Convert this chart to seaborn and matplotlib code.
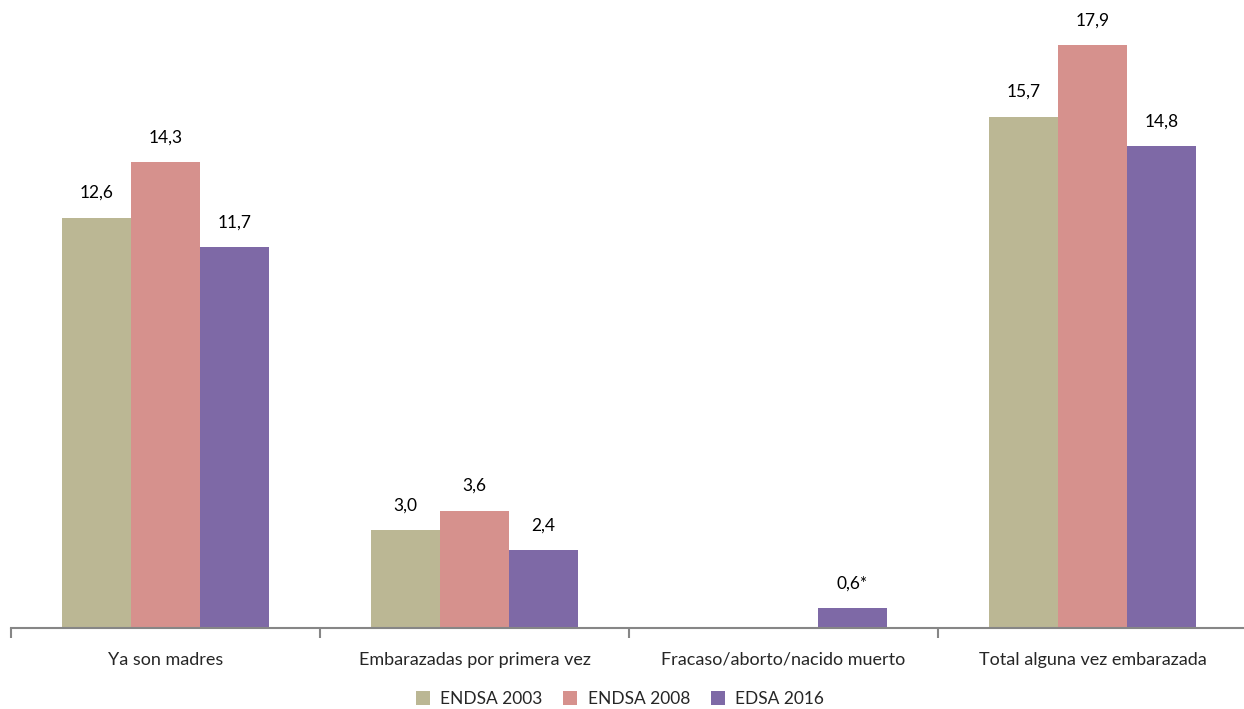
import numpy as np
import pandas as pd
import matplotlib
matplotlib.use("Agg")
import matplotlib.pyplot as plt
import seaborn as sns

categories = ["Ya son madres", "Embarazadas por primera vez",
              "Fracaso/aborto/nacido muerto", "Total alguna vez embarazada"]
series = ["ENDSA 2003", "ENDSA 2008", "EDSA 2016"]
endsa_2003 = [12.6, 3.0, np.nan, 15.7]
endsa_2008 = [14.3, 3.6, np.nan, 17.9]
edsa_2016 = [11.7, 2.4, 0.6, 14.8]
notes = {("EDSA 2016", "Fracaso/aborto/nacido muerto"): "*"}
colors = ["#BBB794", "#D6918D", "#7E69A6"]

rows = []
for s, vals in zip(series, [endsa_2003, endsa_2008, edsa_2016]):
    for c, v in zip(categories, vals):
        rows.append({"categoria": c, "serie": s, "val": v})
df = pd.DataFrame(rows)

sns.set_style("white")
plt.rcParams["font.family"] = ["Lato", "DejaVu Sans"]

fig = plt.figure(figsize=(12.44, 7.09), dpi=100)
ax = fig.add_axes([11/1244, (709-628)/709, 1236/1244, 628/709])

sns.barplot(data=df, x="categoria", y="val", hue="serie", order=categories,
            hue_order=series, palette=colors, width=0.67, ax=ax,
            saturation=1, legend=True, errorbar=None, linewidth=0)

ax.set_xlim(-0.5, 3.5)
ax.set_ylim(0, 628/32.57)

for cont, s in zip(ax.containers, series):
    sub = df[df["serie"] == s].dropna()
    labels = []
    for c, v in zip(sub["categoria"], sub["val"]):
        lab = f"{v:.1f}".replace(".", ",") + notes.get((s, c), "")
        labels.append(lab)
    ax.bar_label(cont, labels=labels, padding=12, fontsize=12.5, color="#000000")

for sp in ["top", "right", "left"]:
    ax.spines[sp].set_visible(False)
ax.spines["bottom"].set_color("#868686")
ax.spines["bottom"].set_linewidth(1.5)
ax.set_yticks([])
ax.set_xlabel("")
ax.set_ylabel("")
ax.set_xticks(range(4))
ax.set_xticklabels(categories, fontsize=13)
ax.tick_params(axis="x", which="major", length=0, pad=17)
ax.set_xticks([-0.5, 0.5, 1.5, 2.5, 3.5], minor=True)
ax.tick_params(axis="x", which="minor", bottom=True, length=7, width=1.5,
               color="#868686", direction="out")

leg = ax.legend(loc="center", bbox_to_anchor=(620/1244, 10/709), bbox_transform=fig.transFigure,
                ncol=3, frameon=False, fontsize=12.5, handlelength=0.8, handleheight=0.8,
                columnspacing=1.2, handletextpad=0.6, borderpad=0.1)

fig.savefig("out.png", dpi=100)
